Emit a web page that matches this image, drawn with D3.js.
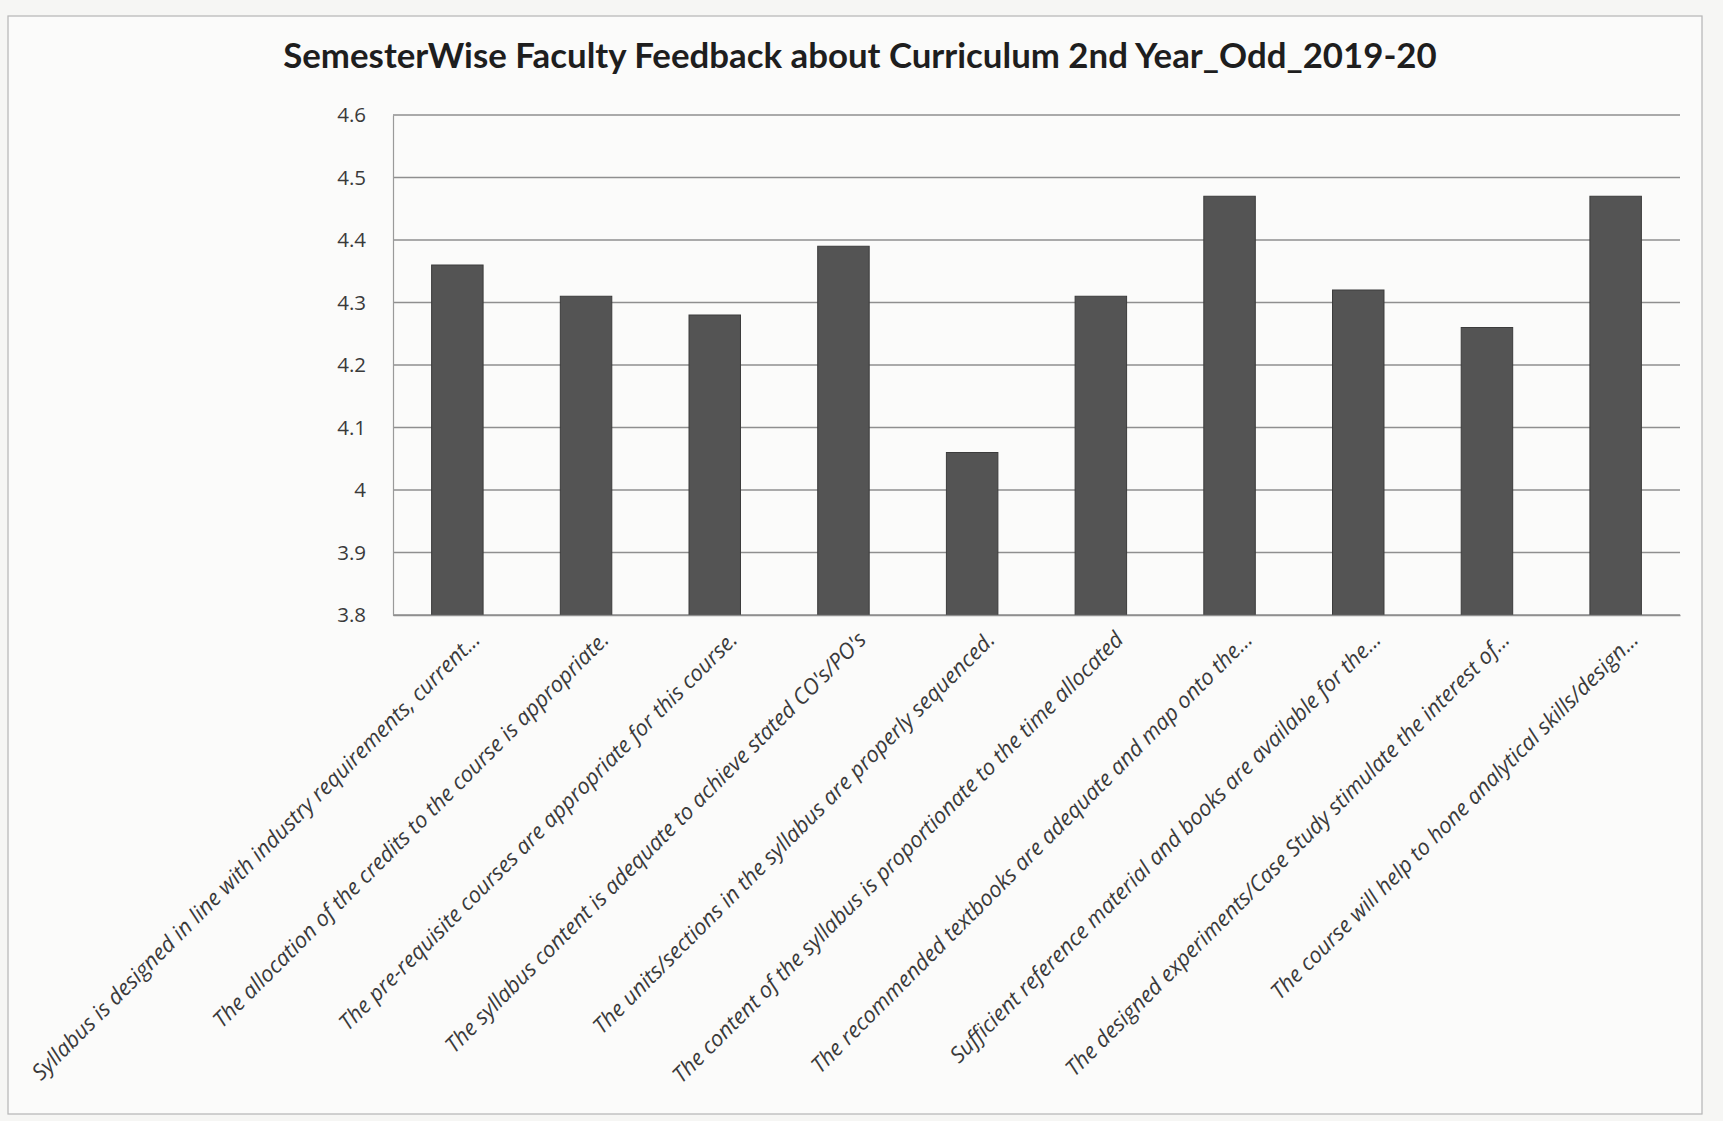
<!DOCTYPE html>
<html>
<head>
<meta charset="utf-8">
<script src="https://cdn.jsdelivr.net/npm/d3@7"></script>
<style>
  html, body { margin: 0; padding: 0; background: #f6f6f4; }
  svg { display: block; }
</style>
</head>
<body>
<script>
const title = "SemesterWise Faculty Feedback about Curriculum 2nd Year_Odd_2019-20";
const categories = [
  "Syllabus is designed in line with industry requirements, current...",
  "The allocation of the credits to the course is appropriate.",
  "The pre-requisite courses are appropriate for this course.",
  "The syllabus content is adequate to achieve stated CO's/PO's",
  "The units/sections in the syllabus are properly sequenced.",
  "The content of the syllabus is proportionate to the time allocated",
  "The recommended textbooks are adequate and map onto the...",
  "Sufficient reference material and books are available for the...",
  "The designed experiments/Case Study stimulate the interest of...",
  "The course will help to hone analytical skills/design..."
];
const values = [4.36, 4.31, 4.28, 4.39, 4.06, 4.31, 4.47, 4.32, 4.26, 4.47];
const yTicks = [3.8, 3.9, 4.0, 4.1, 4.2, 4.3, 4.4, 4.5, 4.6];
const yTickLabels = ["3.8", "3.9", "4", "4.1", "4.2", "4.3", "4.4", "4.5", "4.6"];

const W = 1723, H = 1121;
const svg = d3.select("body").append("svg").attr("width", W).attr("height", H);

// chart frame
svg.append("rect").attr("x", 8).attr("y", 16).attr("width", 1694).attr("height", 1098)
  .attr("fill", "#fbfbfa").attr("stroke", "#b5b5b5").attr("stroke-width", 1.2);

const m = { left: 393, right: 1680, top: 115, bottom: 615 };

const x = d3.scaleBand().domain(categories).range([m.left, m.right]).paddingInner(0.6).paddingOuter(0.3);
const y = d3.scaleLinear().domain([3.8, 4.6]).range([m.bottom, m.top]);

// gridlines
svg.append("g").selectAll("line").data(yTicks).join("line")
  .attr("x1", m.left).attr("x2", m.right)
  .attr("y1", d => y(d)).attr("y2", d => y(d))
  .attr("stroke", "#8f8f8f").attr("stroke-width", 1.4);

// y axis
const yAxis = d3.axisLeft(y).tickValues(yTicks).tickFormat((d, i) => yTickLabels[i]).tickSize(0).tickPadding(27);
const gy = svg.append("g").attr("transform", `translate(${m.left},0)`).call(yAxis);
gy.select(".domain").attr("stroke", "#9a9a9a").attr("stroke-width", 1.2);
gy.selectAll("text").attr("font-family", "Open Sans, sans-serif").attr("font-size", 20.5)
  .attr("fill", "#3a3a3a");

// bars
svg.append("g").selectAll("rect").data(values).join("rect")
  .attr("x", (d, i) => x(categories[i]))
  .attr("width", x.bandwidth())
  .attr("y", d => y(d))
  .attr("height", d => y(3.8) - y(d))
  .attr("fill", "#545454")
  .attr("stroke", "#3c3c3c").attr("stroke-width", 1);

// x axis
const xAxis = d3.axisBottom(x).tickSize(0).tickPadding(0);
const gx = svg.append("g").attr("transform", `translate(0,${m.bottom})`).call(xAxis);
gx.select(".domain").attr("stroke", "#8f8f8f").attr("stroke-width", 1.4);
gx.selectAll("text")
  .attr("font-family", "Open Sans, sans-serif").attr("font-size", 22)
  .attr("font-style", "italic")
  .attr("fill", "#3a3a3a")
  .attr("text-anchor", "end")
  .attr("dy", 0)
  .attr("transform", "translate(24,26) rotate(-45)");

// title
const t = svg.append("text").attr("x", 860).attr("y", 68).attr("text-anchor", "middle")
  .attr("font-family", "Lato, sans-serif").attr("font-weight", "bold").attr("font-size", 28)
  .attr("fill", "#1e1e1e").text(title);
const tw = t.node().getComputedTextLength();
t.attr("font-size", 28 * 1154 / tw);
</script>
</body>
</html>
